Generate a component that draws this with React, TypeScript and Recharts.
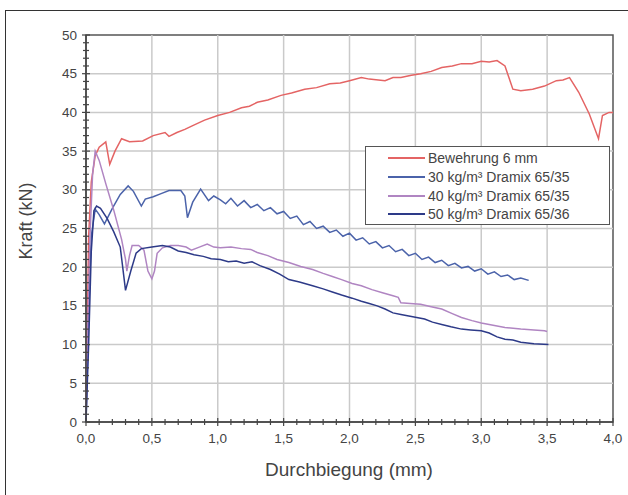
import React from 'react';
import {
  LineChart,
  Line,
  XAxis,
  YAxis,
  ReferenceLine,
  ReferenceArea,
  Legend,
} from 'recharts';

// Kraft-Durchbiegungs-Kurven, Werte: [mm, kN]
const bewehrung6mm: [number, number][] = [
  [0, 0], [0.01, 12], [0.02, 24], [0.04, 31], [0.07, 34.4], [0.1, 35.5], [0.15, 36.2],
  [0.18, 33.3], [0.22, 35], [0.27, 36.6], [0.33, 36.2], [0.43, 36.3], [0.51, 37],
  [0.6, 37.4], [0.63, 36.9], [0.69, 37.4], [0.75, 37.8], [0.81, 38.3], [0.9, 39],
  [1.0, 39.6], [1.09, 40], [1.18, 40.6], [1.24, 40.8], [1.3, 41.3], [1.38, 41.6],
  [1.48, 42.2], [1.56, 42.5], [1.66, 43], [1.75, 43.2], [1.85, 43.7], [1.93, 43.8],
  [2.0, 44.1], [2.09, 44.5], [2.15, 44.3], [2.27, 44.1], [2.33, 44.5], [2.39, 44.5],
  [2.47, 44.8], [2.54, 45], [2.62, 45.3], [2.7, 45.8], [2.78, 46], [2.85, 46.3],
  [2.93, 46.3], [3.0, 46.6], [3.06, 46.5], [3.12, 46.7], [3.18, 46], [3.24, 43],
  [3.3, 42.8], [3.39, 43], [3.48, 43.4], [3.57, 44.1], [3.62, 44.2], [3.67, 44.5],
  [3.74, 42.6], [3.82, 39.8], [3.89, 36.6], [3.92, 39.6], [3.97, 40], [4.0, 40],
];

const dramix30: [number, number][] = [
  [0, 0], [0.02, 14], [0.04, 24], [0.07, 27.5], [0.1, 26.8], [0.14, 25.6], [0.2, 27.6],
  [0.26, 29.4], [0.32, 30.5], [0.36, 29.8], [0.42, 27.9], [0.45, 28.8], [0.51, 29.1],
  [0.57, 29.5], [0.63, 29.9], [0.72, 29.9], [0.75, 29.2], [0.77, 26.4], [0.81, 28.4],
  [0.87, 30.1], [0.93, 28.6], [0.97, 29.2], [1.02, 28.7], [1.06, 28.2], [1.1, 28.9],
  [1.15, 27.9], [1.2, 28.6], [1.25, 27.7], [1.3, 28.1], [1.35, 27.3], [1.4, 27.7],
  [1.45, 26.9], [1.5, 27.2], [1.55, 26.3], [1.6, 26.6], [1.65, 25.5], [1.7, 25.9],
  [1.75, 25.0], [1.8, 25.3], [1.85, 24.5], [1.9, 24.8], [1.95, 24.0], [2.0, 24.4],
  [2.05, 23.5], [2.1, 23.8], [2.15, 23.0], [2.2, 23.3], [2.25, 22.5], [2.3, 22.8],
  [2.35, 22.0], [2.4, 22.3], [2.45, 21.5], [2.5, 21.8], [2.55, 21.0], [2.6, 21.3],
  [2.65, 20.6], [2.7, 20.9], [2.75, 20.2], [2.8, 20.5], [2.85, 19.9], [2.9, 20.1],
  [2.95, 19.5], [3.0, 19.8], [3.05, 19.1], [3.1, 19.4], [3.15, 18.8], [3.2, 19.0],
  [3.25, 18.4], [3.3, 18.6], [3.36, 18.3],
];

const dramix40: [number, number][] = [
  [0, 0], [0.01, 9], [0.03, 24], [0.05, 32], [0.07, 35], [0.1, 33.8], [0.15, 30.8],
  [0.21, 27.4], [0.27, 23.6], [0.3, 21], [0.31, 19.5], [0.33, 21.5], [0.35, 22.8],
  [0.4, 22.8], [0.44, 22.2], [0.47, 19.5], [0.5, 18.5], [0.52, 19.5], [0.54, 21.8],
  [0.58, 22.5], [0.64, 22.8], [0.7, 22.8], [0.76, 22.6], [0.8, 22.2], [0.86, 22.6],
  [0.92, 23.0], [0.97, 22.6], [1.02, 22.5], [1.1, 22.6], [1.18, 22.4], [1.25, 22.3],
  [1.3, 21.9], [1.38, 21.5], [1.45, 21.0], [1.54, 20.6], [1.63, 20.1], [1.72, 19.7],
  [1.8, 19.2], [1.87, 18.8], [1.94, 18.4], [2.02, 17.9], [2.09, 17.6], [2.17, 17.1],
  [2.25, 16.7], [2.33, 16.3], [2.37, 16.1], [2.39, 15.4], [2.46, 15.3], [2.54, 15.2],
  [2.62, 14.9], [2.7, 14.6], [2.78, 14.0], [2.85, 13.5], [2.93, 13.1], [3.0, 12.8],
  [3.09, 12.5], [3.18, 12.2], [3.3, 12.0], [3.4, 11.9], [3.48, 11.8], [3.5, 11.7],
];

const dramix50: [number, number][] = [
  [0, 0], [0.02, 10], [0.04, 22], [0.06, 27.3], [0.08, 27.9], [0.11, 27.6], [0.16, 26.3],
  [0.21, 24.6], [0.26, 22.6], [0.3, 17], [0.34, 19.5], [0.38, 21.8], [0.42, 22.4],
  [0.5, 22.6], [0.58, 22.8], [0.64, 22.6], [0.7, 22.1], [0.76, 21.9], [0.82, 21.6],
  [0.89, 21.4], [0.95, 21.1], [1.02, 21.0], [1.08, 20.7], [1.14, 20.8], [1.2, 20.5],
  [1.26, 20.7], [1.32, 20.2], [1.4, 19.7], [1.47, 19.1], [1.54, 18.4], [1.62, 18.1],
  [1.72, 17.6], [1.8, 17.2], [1.87, 16.8], [1.94, 16.4], [2.02, 16.0], [2.09, 15.6],
  [2.15, 15.3], [2.21, 15.0], [2.27, 14.6], [2.33, 14.1], [2.39, 13.9], [2.45, 13.7],
  [2.51, 13.5], [2.57, 13.3], [2.63, 12.9], [2.7, 12.6], [2.77, 12.3], [2.85, 12.0],
  [2.92, 11.9], [3.0, 11.8], [3.06, 11.5], [3.12, 11.0], [3.18, 10.7], [3.24, 10.6],
  [3.3, 10.3], [3.4, 10.1], [3.51, 10.0],
];

const seriesNames = [
  'Bewehrung 6 mm',
  '30 kg/m³ Dramix 65/35',
  '40 kg/m³ Dramix 65/35',
  '50 kg/m³ Dramix 65/36',
];

// Achsen: Haupt- und Nebenstriche
const xTicks = [
  0, 0.1, 0.2, 0.3, 0.4, 0.5, 0.6, 0.7, 0.8, 0.9, 1.0, 1.1, 1.2, 1.3, 1.4, 1.5, 1.6, 1.7, 1.8, 1.9,
  2.0, 2.1, 2.2, 2.3, 2.4, 2.5, 2.6, 2.7, 2.8, 2.9, 3.0, 3.1, 3.2, 3.3, 3.4, 3.5, 3.6, 3.7, 3.8, 3.9, 4.0,
];
const yTicks = [
  0, 1, 2, 3, 4, 5, 6, 7, 8, 9, 10, 11, 12, 13, 14, 15, 16, 17, 18, 19, 20, 21, 22, 23, 24, 25,
  26, 27, 28, 29, 30, 31, 32, 33, 34, 35, 36, 37, 38, 39, 40, 41, 42, 43, 44, 45, 46, 47, 48, 49, 50,
];
const xGrid = [0.5, 1.0, 1.5, 2.0, 2.5, 3.0, 3.5];
const yGrid = [5, 10, 15, 20, 25, 30, 35, 40, 45];

const toPoints = (rows: [number, number][]) => rows.map(([x, y]) => ({ x, y }));

const FONT = '"Liberation Sans", Arial, sans-serif';
const TEXT = '#444';
const AXIS = '#444';
const GRID = '#cacaca';

const isMajor = (v: number, step: number) => Math.abs(v / step - Math.round(v / step)) < 1e-6;

const XTick = ({ x, y, payload }: any) => {
  const v = payload.value as number;
  const major = isMajor(v, 0.5);
  const len = major ? 4 : 3;
  return (
    <g>
      <line x1={x} x2={x} y1={y - len} y2={y + len} stroke={AXIS} strokeWidth={1.2} />
      {major && (
        <text x={x} y={y + 21} textAnchor="middle" fontSize={13.5} fill={TEXT} fontFamily={FONT}>
          {v.toFixed(1).replace('.', ',')}
        </text>
      )}
    </g>
  );
};

const YTick = ({ x, y, payload }: any) => {
  const v = payload.value as number;
  const major = isMajor(v, 5);
  const len = major ? 4 : 3;
  return (
    <g>
      <line x1={x - len} x2={x + len} y1={y} y2={y} stroke={AXIS} strokeWidth={1.2} />
      {major && (
        <text x={x - 9} y={y + 4.5} textAnchor="end" fontSize={13.5} fill={TEXT} fontFamily={FONT}>
          {v}
        </text>
      )}
    </g>
  );
};

const LegendBox = ({ payload }: any) => {
  const items = [...(payload || [])].sort(
    (a: any, b: any) => seriesNames.indexOf(a.value) - seriesNames.indexOf(b.value),
  );
  return (
    <div
      style={{
        border: '1.5px solid #555',
        background: '#fff',
        boxSizing: 'border-box',
        width: 245,
        height: 79,
        paddingTop: 2,
        fontFamily: FONT,
        fontSize: 14,
        color: TEXT,
      }}
    >
      {items.map((p: any) => (
        <div key={p.value} style={{ display: 'flex', alignItems: 'center', height: 18.7 }}>
          <span
            style={{
              display: 'inline-block',
              width: 37,
              borderTop: `2px solid ${p.color}`,
              marginLeft: 22,
              marginRight: 3,
            }}
          />
          <span>{p.value}</span>
        </div>
      ))}
    </div>
  );
};

export default function App() {
  return (
    <div
      style={{
        position: 'absolute',
        left: 0,
        top: 0,
        width: 628,
        height: 495,
        overflow: 'hidden',
        background: '#fff',
      }}
    >
      <div
        style={{
          position: 'absolute',
          left: 5,
          top: 10,
          width: 700,
          height: 600,
          borderTop: '1.5px solid #333',
          borderLeft: '1.5px solid #333',
        }}
      />
      <LineChart width={628} height={495} margin={{ top: 35, right: 15, left: 36, bottom: 43 }}>
        {xGrid.map((v) => (
          <ReferenceLine key={`gx${v}`} x={v} stroke={GRID} strokeWidth={1.5} />
        ))}
        {yGrid.map((v) => (
          <ReferenceLine key={`gy${v}`} y={v} stroke={GRID} strokeWidth={1.5} />
        ))}
        <ReferenceArea x1={0} x2={4} y1={0} y2={50} fill="none" stroke="#555" strokeWidth={1.5} />
        <XAxis
          type="number"
          dataKey="x"
          domain={[0, 4]}
          ticks={xTicks}
          interval={0}
          allowDuplicatedCategory={false}
          height={30}
          tickSize={0}
          tickMargin={0}
          tickLine={false}
          tick={<XTick />}
          axisLine={{ stroke: AXIS, strokeWidth: 1.5 }}
        />
        <YAxis
          type="number"
          dataKey="y"
          domain={[0, 50]}
          ticks={yTicks}
          interval={0}
          width={50}
          tickSize={0}
          tickMargin={0}
          tickLine={false}
          tick={<YTick />}
          axisLine={{ stroke: AXIS, strokeWidth: 1.5 }}
        />
        <Legend
          layout="vertical"
          align="center"
          verticalAlign="middle"
          content={<LegendBox />}
          wrapperStyle={{ left: 365, top: 146, width: 245, height: 79 }}
        />
        <Line
          data={toPoints(bewehrung6mm)}
          dataKey="y"
          name={seriesNames[0]}
          type="linear"
          stroke="#e46464"
          strokeWidth={1.5}
          dot={false}
          isAnimationActive={false}
        />
        <Line
          data={toPoints(dramix30)}
          dataKey="y"
          name={seriesNames[1]}
          type="linear"
          stroke="#4b63aa"
          strokeWidth={1.5}
          dot={false}
          isAnimationActive={false}
        />
        <Line
          data={toPoints(dramix40)}
          dataKey="y"
          name={seriesNames[2]}
          type="linear"
          stroke="#b085c2"
          strokeWidth={1.5}
          dot={false}
          isAnimationActive={false}
        />
        <Line
          data={toPoints(dramix50)}
          dataKey="y"
          name={seriesNames[3]}
          type="linear"
          stroke="#2d3a88"
          strokeWidth={1.5}
          dot={false}
          isAnimationActive={false}
        />
      </LineChart>
      <div
        style={{
          position: 'absolute',
          left: 26,
          top: 221,
          transform: 'translate(-50%, -50%) rotate(-90deg)',
          whiteSpace: 'nowrap',
          fontFamily: FONT,
          fontSize: 18,
          color: TEXT,
        }}
      >
        Kraft (kN)
      </div>
      <div
        style={{
          position: 'absolute',
          left: 349,
          top: 470,
          transform: 'translate(-50%, -50%)',
          whiteSpace: 'nowrap',
          fontFamily: FONT,
          fontSize: 19,
          color: TEXT,
        }}
      >
        Durchbiegung (mm)
      </div>
    </div>
  );
}
